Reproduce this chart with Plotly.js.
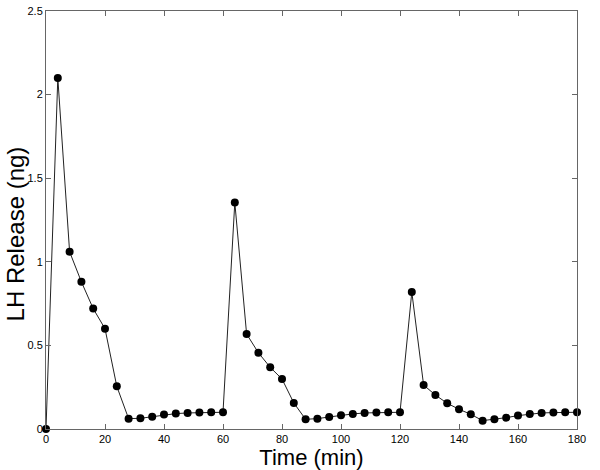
<!DOCTYPE html>
<html>
<head>
<meta charset="utf-8">
<script src="https://cdn.plot.ly/plotly-3.0.1.min.js"></script>
<style>
  html, body { margin: 0; padding: 0; background: #fff; }
  #chart { width: 600px; height: 470px; }
</style>
</head>
<body>
<div id="chart"></div>
<script>
// サンプリング時刻 (分)
const timeMin = [
  0, 4, 8, 12, 16, 20, 24, 28, 32, 36, 40, 44, 48, 52, 56, 60,
  64, 68, 72, 76, 80, 84, 88, 92, 96, 100, 104, 108, 112, 116, 120,
  124, 128, 132, 136, 140, 144, 148, 152, 156, 160, 164, 168, 172, 176, 180
];

// LH放出量 (ng)
const lhRelease = [
  0, 2.10, 1.06, 0.88, 0.72, 0.60, 0.255, 0.062, 0.064, 0.074, 0.086, 0.092, 0.096, 0.098, 0.10, 0.10,
  1.355, 0.568, 0.456, 0.369, 0.299, 0.156, 0.058, 0.062, 0.072, 0.082, 0.090, 0.096, 0.098, 0.10, 0.10,
  0.819, 0.263, 0.203, 0.154, 0.118, 0.088, 0.050, 0.058, 0.068, 0.080, 0.090, 0.096, 0.098, 0.10, 0.10
];

const xTicks = [0, 20, 40, 60, 80, 100, 120, 140, 160, 180];
const yTicks = [0, 0.5, 1, 1.5, 2, 2.5];
const yTickText = ['0', '0.5', '1', '1.5', '2', '2.5'];

const FONT = 'Liberation Sans, Arial, sans-serif';

const trace = {
  x: timeMin,
  y: lhRelease,
  mode: 'lines+markers',
  type: 'scatter',
  line: { color: '#222', width: 1 },
  marker: { color: '#000', size: 8 },
  cliponaxis: false
};

const axisCommon = {
  showline: true,
  linecolor: '#666',
  linewidth: 1,
  mirror: 'ticks',
  ticks: 'inside',
  ticklen: 5,
  tickcolor: '#666',
  showgrid: false,
  zeroline: false,
  tickfont: { family: FONT, size: 11, color: '#000' }
};

const layout = {
  width: 600,
  height: 470,
  margin: { l: 46, r: 23, t: 11, b: 41 },
  paper_bgcolor: '#fff',
  plot_bgcolor: '#fff',
  showlegend: false,
  xaxis: Object.assign({}, axisCommon, {
    range: [0, 180],
    tickvals: xTicks,
    title: { text: 'Time (min)', font: { family: FONT, size: 22, color: '#000' }, standoff: 4 }
  }),
  yaxis: Object.assign({}, axisCommon, {
    range: [0, 2.5],
    tickvals: yTicks,
    ticktext: yTickText
  }),
  // 縦軸タイトル（少し下寄せ）
  annotations: [{
    text: 'LH Release (ng)',
    xref: 'paper', yref: 'paper',
    x: -0.058, y: 0.466,
    xanchor: 'center', yanchor: 'middle',
    textangle: -90,
    showarrow: false,
    font: { family: FONT, size: 24, color: '#000' }
  }]
};

Plotly.newPlot('chart', [trace], layout, { staticPlot: true, displayModeBar: false });
</script>
</body>
</html>
